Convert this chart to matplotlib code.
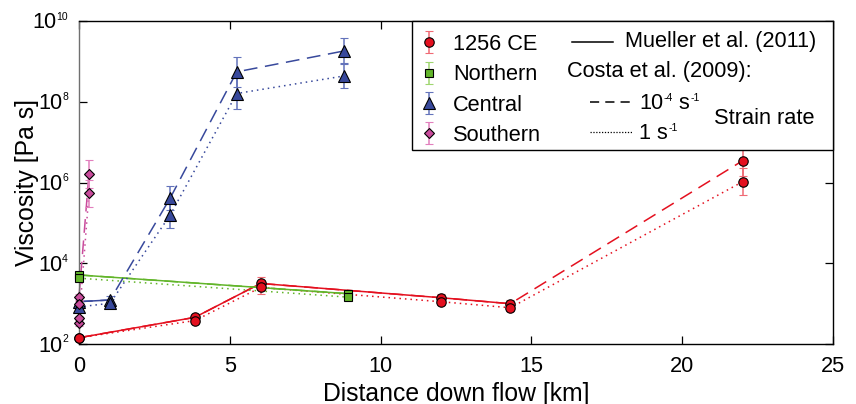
import numpy as np
import matplotlib
matplotlib.use('Agg')
import matplotlib.pyplot as plt
from matplotlib.patches import Rectangle

plt.rcParams['font.family'] = ['Liberation Sans', 'DejaVu Sans']
plt.rcParams['mathtext.fontset'] = 'custom'
plt.rcParams['mathtext.rm'] = 'Liberation Sans'
plt.rcParams['mathtext.it'] = 'Liberation Sans:italic'
plt.rcParams['mathtext.bf'] = 'Liberation Sans:bold'

# ---------------- data (viscosity in Pa s, distance in km) ----------------
# 1256 CE flow
dist_1256 = [0.0, 3.84, 6.02, 12.0, 14.3, 22.0]
visc_1256_mueller = [143, 457, 3160, 1400, 995]             # Mueller et al. (2011), 0-14.3 km
visc_1256_slowrate = [143, 457, 3160, 1400, 995, 3.45e6]    # Costa 10^-4 s^-1
visc_1256_fastrate = [143, 380, 2510, 1115, 790, 1.04e6]    # Costa 1 s^-1
err_1256_slowrate = [0.05, 0.07, 0.16, 0.09, 0.08, 0.37]    # log10 half-width
err_1256_fastrate = [0.05, 0.07, 0.15, 0.09, 0.08, 0.33]

# Northern flow
dist_north = [0.0, 8.93]
visc_north_mueller = [5130, 1760]
visc_north_slowrate = [5130, 1760]
visc_north_fastrate = [4270, 1445]
err_north_slowrate = [0.08, 0.07]
err_north_fastrate = [0.08, 0.07]

# Central flow
dist_central = [0.0, 1.03, 3.02, 5.23, 8.80]
visc_central_mueller = [1120, 1230]
visc_central_slowrate = [1120, 1230, 4.07e5, 5.5e8, 1.82e9]
visc_central_fastrate = [830, 1020, 1.55e5, 1.6e8, 4.37e8]
err_central_slowrate = [0.1, 0.1, 0.3, 0.37, 0.33]
err_central_fastrate = [0.1, 0.1, 0.31, 0.39, 0.31]

# Southern flow
dist_south = [0.0, 0.33]
visc_south_slowrate = [1480, 1.62e6]
visc_south_fastrate = [340, 5.4e5]
dist_south_extra = [0.0, 0.0]
visc_south_extra = [1000, 440]
err_south_slowrate = [0.08, 0.34]
err_south_fastrate = [0.08, 0.33]
err_south_extra = [0.06, 0.06]

xticks = [0, 5, 10, 15, 20, 25]
yticks = [1e2, 1e4, 1e6, 1e8, 1e10]
series_labels = ['1256 CE', 'Northern', 'Central', 'Southern']

# ---------------- styles ----------------
RED, RED_E = '#e4101f', '#f06a74'
GREEN, GREEN_E = '#62b52a', '#9fd66f'
BLUE, BLUE_E = '#38499c', '#6373bb'
PINK, PINK_E = '#c94c9c', '#e27fbd'
DASH = (9, 5)
DOT = (1, 2.6)
FS = 15.7
SUP = 7.5

fig = plt.figure(figsize=(8.56, 4.04), dpi=100)
ax = fig.add_axes([79 / 856, 60 / 404, 754 / 856, 323 / 404])
ax.set_yscale('log')


def line(x, y, color, kind):
    kw = dict(color=color, lw=1.1, clip_on=False, zorder=2)
    if kind == 'solid':
        ax.plot(x, y, ls='-', **kw)
    elif kind == 'dash':
        ax.plot(x, y, ls=(0, DASH), **kw)
    else:
        ax.plot(x, y, ls=(0, DOT), **kw)


def points(x, y, err, color, ecolor, marker, ms):
    y = np.asarray(y, float)
    e = np.asarray(err, float)
    yerr = [y - y / 10 ** e, y * 10 ** e - y]
    c = ax.errorbar(x, y, yerr=yerr, fmt=marker, ms=ms, mfc=color, mec='k',
                    mew=0.8, ecolor=ecolor, elinewidth=1.1, capsize=2.6,
                    capthick=1.1, zorder=4)
    c[0].set_clip_on(False)
    for a in c[1]:
        a.set_clip_on(False)
    for a in c[2]:
        a.set_clip_on(False)
    return c


# lines
line(dist_1256, visc_1256_slowrate, RED, 'dash')
line(dist_1256, visc_1256_fastrate, RED, 'dot')
line(dist_1256[:5], visc_1256_mueller, RED, 'solid')

line(dist_north, visc_north_slowrate, GREEN, 'dash')
line(dist_north, visc_north_fastrate, GREEN, 'dot')
line(dist_north, visc_north_mueller, GREEN, 'solid')

line(dist_central, visc_central_slowrate, BLUE, 'dash')
line(dist_central, visc_central_fastrate, BLUE, 'dot')
line(dist_central[:2], visc_central_mueller, BLUE, 'solid')

line(dist_south, visc_south_slowrate, PINK, 'dash')
line(dist_south, visc_south_fastrate, PINK, 'dot')

# points
h_red = points(dist_1256, visc_1256_slowrate, err_1256_slowrate, RED, RED_E, 'o', 6.8)
points(dist_1256, visc_1256_fastrate, err_1256_fastrate, RED, RED_E, 'o', 6.8)
h_green = points(dist_north, visc_north_slowrate, err_north_slowrate, GREEN, GREEN_E, 's', 5.5)
points(dist_north, visc_north_fastrate, err_north_fastrate, GREEN, GREEN_E, 's', 5.5)
h_blue = points(dist_central, visc_central_slowrate, err_central_slowrate, BLUE, BLUE_E, '^', 8)
points(dist_central, visc_central_fastrate, err_central_fastrate, BLUE, BLUE_E, '^', 8)
h_pink = points(dist_south, visc_south_slowrate, err_south_slowrate, PINK, PINK_E, 'D', 5.5)
points(dist_south, visc_south_fastrate, err_south_fastrate, PINK, PINK_E, 'D', 5.5)
points(dist_south_extra, visc_south_extra, err_south_extra, PINK, PINK_E, 'D', 5.5)

# axes
ax.set_xlim(0, 25)
ax.set_ylim(1e2, 1e10)
ax.set_xticks(xticks)
ax.set_yticks(yticks)
ax.minorticks_off()
ax.tick_params(direction='in', top=True, right=True, length=6, width=0.9,
               labelsize=FS)
ax.tick_params(axis='x', pad=9)
ax.tick_params(axis='y', labelleft=False)
for s in ax.spines.values():
    s.set_linewidth(1.0)
ax.spines['left'].set_color('#707070')
ax.set_xlabel('Distance down flow [km]', fontsize=17.8, labelpad=3)
ax.set_ylabel('Viscosity [Pa s]', fontsize=17.8)
ax.yaxis.set_label_coords((39 - 79) / 754, 0.5)

# y tick labels: "10" with a small exponent (Matlab style)
for t in yticks:
    ex = ax.annotate(f'{int(round(np.log10(t)))}', xy=(0, t),
                     xycoords=('axes fraction', 'data'), xytext=(-11, 1.5),
                     textcoords='offset pixels', ha='right', va='baseline',
                     fontsize=SUP, annotation_clip=False)
    ax.annotate('10', xy=(0, t), xycoords=(ex, 'data'), xytext=(0, -7.5),
                textcoords='offset pixels', ha='right', va='baseline',
                fontsize=FS, annotation_clip=False)

# legend frame
x0 = (412 - 79) / 754
y0 = (344 - 150) / 323
ax.add_patch(Rectangle((x0, y0), 1 - x0, 1 - y0, transform=ax.transAxes,
                       facecolor='white', edgecolor='black', lw=1.0,
                       zorder=6, clip_on=False))

leg = ax.legend([h_red, h_green, h_blue, h_pink], series_labels,
                loc='upper left', bbox_to_anchor=(x0 + 0.004, 0.977),
                frameon=False, fontsize=FS, handlelength=0.8,
                handletextpad=0.7, labelspacing=0.43, borderaxespad=0.0,
                borderpad=0.25)
leg.set_zorder(7)


def fx(px):
    return (px - 79) / 754


def fy(py):
    return (344 - py) / 323


def rich(x, y, parts):
    """Write text pieces in sequence; pieces flagged True are superscripts."""
    first = ax.text(x, y, parts[0][0], transform=ax.transAxes, fontsize=FS,
                    va='baseline', ha='left', zorder=8)
    prev_base = first
    prev = first
    for txt, sup in parts[1:]:
        if sup:
            a = ax.annotate(txt, xy=(1, 0), xycoords=(prev, prev_base),
                            xytext=(0.5, 13), textcoords='offset pixels',
                            ha='left', va='baseline', fontsize=SUP, zorder=8,
                            annotation_clip=False)
        else:
            a = ax.annotate(txt, xy=(1, 0), xycoords=(prev, prev_base),
                            xytext=(0, 0), textcoords='offset pixels',
                            ha='left', va='bottom', fontsize=FS, zorder=8,
                            annotation_clip=False)
            prev_base = a
        prev = a
    return first


tkw = dict(transform=ax.transAxes, fontsize=FS, va='center', ha='left', zorder=8)
ax.plot([fx(572), fx(613)], [fy(41.7)] * 2, color='k', lw=1.1,
        transform=ax.transAxes, zorder=8, clip_on=False)
ax.text(fx(625), fy(41.7), 'Mueller et al. (2011)', **tkw)
ax.text(fx(567), fy(71.7), 'Costa et al. (2009):', **tkw)
ax.plot([fx(590), fx(632)], [fy(101.7)] * 2, color='k', lw=1.1, ls=(0, (6, 4)),
        transform=ax.transAxes, zorder=8, clip_on=False)
ax.plot([fx(590), fx(632)], [fy(131.7)] * 2, color='k', lw=0.9, ls=(0, (1, 1.3)),
        transform=ax.transAxes, zorder=8, clip_on=False)
rich(fx(639), fy(101.7 + 7.5), [('10', False), ('-4', True), (' s', False), ('-1', True)])
rich(fx(639), fy(131.7 + 7.5), [('1 s', False), ('-1', True)])
ax.text(fx(714), fy(118), 'Strain rate', **tkw)

fig.savefig('out.png', dpi=100)
